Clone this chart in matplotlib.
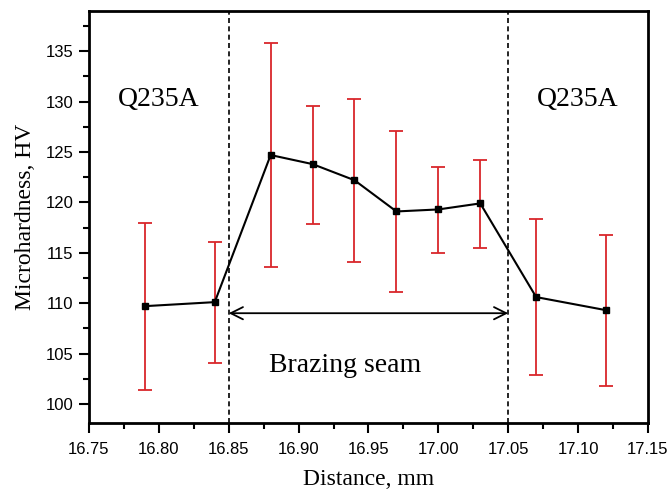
import numpy as np
import matplotlib
matplotlib.use("Agg")
import matplotlib.pyplot as plt
from matplotlib.ticker import MultipleLocator

# data
distance = [16.79, 16.84, 16.88, 16.91, 16.94, 16.97, 17.00, 17.03, 17.07, 17.12]
hardness = [109.7, 110.1, 124.7, 123.8, 122.2, 119.1, 119.3, 119.9, 110.6, 109.3]
err_low = [8.3, 6.0, 11.1, 5.9, 8.1, 8.0, 4.3, 4.4, 7.7, 7.5]
err_high = [8.3, 6.0, 11.1, 5.8, 8.1, 8.0, 4.2, 4.3, 7.8, 7.5]
seam_edges = [16.85, 17.05]
x_ticks = [16.75, 16.80, 16.85, 16.90, 16.95, 17.00, 17.05, 17.10, 17.15]
y_ticks = [100, 105, 110, 115, 120, 125, 130, 135]

serif = ["Liberation Serif", "DejaVu Serif"]

fig = plt.figure(figsize=(6.68, 4.9), dpi=100)
ax = fig.add_axes([0.1332, 0.1367, 0.8368, 0.8409])

ax.errorbar(distance, hardness, yerr=[err_low, err_high], fmt="none",
            ecolor="#d9262b", elinewidth=1.3, capsize=5, capthick=1.3, zorder=2)
ax.plot(distance, hardness, color="black", lw=1.5, marker="s", ms=4.5,
        markerfacecolor="black", zorder=3)

for xe in seam_edges:
    ax.axvline(xe, color="black", lw=1.2, ls=(0, (3, 2)), zorder=1)

ax.annotate("", xy=(seam_edges[0], 109), xytext=(seam_edges[1], 109),
            arrowprops=dict(arrowstyle="<->", color="black", lw=1.3,
                            mutation_scale=22, shrinkA=0, shrinkB=0))

ax.text(16.933, 103.8, "Brazing seam", ha="center", va="center", fontsize=20, family=serif)
ax.text(16.80, 130.2, "Q235A", ha="center", va="center", fontsize=20, family=serif)
ax.text(17.10, 130.2, "Q235A", ha="center", va="center", fontsize=20, family=serif)

ax.set_xlim(16.75, 17.15)
ax.set_ylim(98.1, 139)
ax.set_xticks(x_ticks)
ax.set_xticklabels([f"{v:.2f}" for v in x_ticks])
ax.set_yticks(y_ticks)
ax.xaxis.set_minor_locator(MultipleLocator(0.025))
ax.yaxis.set_minor_locator(MultipleLocator(2.5))

ax.tick_params(which="major", direction="out", length=7, width=1.5,
               labelsize=12, labelfontfamily="Liberation Sans")
ax.tick_params(axis="x", which="major", pad=7)
ax.tick_params(axis="y", which="major", pad=4)
ax.tick_params(which="minor", direction="out", length=4, width=1.5)
for s in ax.spines.values():
    s.set_linewidth(2)

ax.set_xlabel("Distance, mm", fontsize=17, family=serif, labelpad=8)
ax.set_ylabel("Microhardness, HV", fontsize=17, family=serif, labelpad=7)

fig.savefig("out.png", dpi=100)
